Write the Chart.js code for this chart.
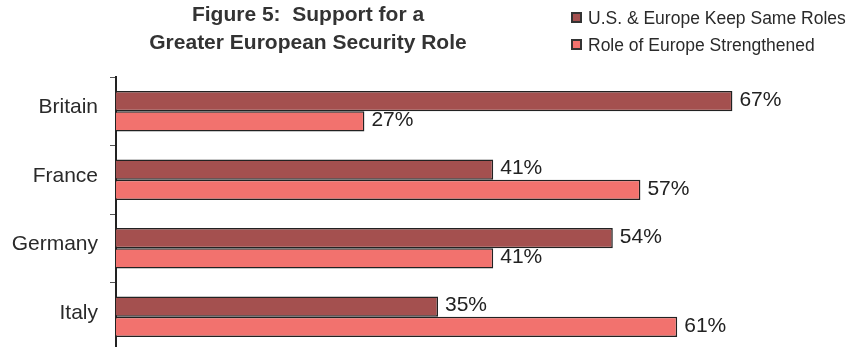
<!DOCTYPE html>
<html>
<head>
<meta charset="utf-8">
<script src="https://cdn.jsdelivr.net/npm/chart.js@4"></script>
<style>
  html, body { margin: 0; padding: 0; background: #fff; overflow: hidden; }
  #wrap { position: relative; width: 859px; height: 356px; }
  #title {
    position: absolute; left: 108px; top: 0; width: 400px;
    text-align: center; font: bold 21px "Liberation Sans", Arial, sans-serif;
    line-height: 28px; color: #333;
  }
  #legend {
    position: absolute; left: 571px; top: 5px;
    font: 17.5px "Liberation Sans", Arial, sans-serif; line-height: 27px; color: #2a2a2a;
  }
  #legend span.box {
    display: inline-block; width: 7px; height: 7px; border: 2px solid #333;
    margin-right: 6px; vertical-align: 1px;
  }
</style>
</head>
<body>
<div id="wrap">
  <canvas id="chart" width="859" height="356"></canvas>
  <div id="title">Figure 5:&nbsp; Support for a<br>Greater European Security Role</div>
  <div id="legend"></div>
</div>
<script>
document.addEventListener("DOMContentLoaded", () => {
    // Data
    const countries = ['Britain', 'France', 'Germany', 'Italy'];
    const keepSame = [67, 41, 54, 35];
    const strengthened = [27, 57, 41, 61];
    const seriesNames = ['U.S. & Europe Keep Same Roles', 'Role of Europe Strengthened'];

    const colors = {
        dark: '#a4504f',
        light: '#f2726e',
        edge: '#222'
    };

    // Legend in the top right corner
    const legendEl = document.getElementById('legend');
    [colors.dark, colors.light].forEach((c, i) => {
        const row = document.createElement('div');
        const box = document.createElement('span');
        box.className = 'box';
        box.style.background = c;
        row.appendChild(box);
        row.appendChild(document.createTextNode(seriesNames[i]));
        legendEl.appendChild(row);
    });

    // Percent labels at the end of each bar
    const valueLabels = {
        id: 'valueLabels',
        afterDatasetsDraw(chart) {
            const ctx = chart.ctx;
            ctx.save();
            ctx.font = '21px "Liberation Sans", Arial, sans-serif';
            ctx.fillStyle = '#222';
            ctx.textBaseline = 'middle';
            ctx.textAlign = 'left';
            chart.data.datasets.forEach((ds, di) => {
                chart.getDatasetMeta(di).data.forEach((bar, i) => {
                    ctx.fillText(ds.data[i] + '%', bar.x + 7, bar.y - 1);
                });
            });
            ctx.restore();
        }
    };

    const ctx = document.getElementById('chart').getContext('2d');
    new Chart(ctx, {
        type: 'bar',
        data: {
            labels: countries,
            datasets: [
                { label: seriesNames[0], data: keepSame, backgroundColor: colors.dark, borderColor: colors.edge, borderWidth: 1.5, barPercentage: 1.0, categoryPercentage: 0.59 },
                { label: seriesNames[1], data: strengthened, backgroundColor: colors.light, borderColor: colors.edge, borderWidth: 1.5, barPercentage: 1.0, categoryPercentage: 0.59 }
            ]
        },
        options: {
            indexAxis: 'y',
            responsive: false,
            animation: false,
            layout: { padding: { top: 77, bottom: 5, left: 0, right: 7 } },
            plugins: { legend: { display: false }, tooltip: { enabled: false }, title: { display: false } },
            scales: {
                x: { display: false, min: 0, max: 80 },
                y: {
                    afterFit: (scale) => {
                        scale.width = 116;
                        scale.paddingTop = 0;
                        scale.paddingBottom = 0;
                    },
                    border: { display: true, color: '#222', width: 2 },
                    grid: { drawOnChartArea: false, tickLength: 6, color: '#555', offset: true },
                    ticks: { color: '#2a2a2a', padding: 12, labelOffset: -4, font: { family: '"Liberation Sans", Arial, sans-serif', size: 21 } }
                }
            }
        },
        plugins: [valueLabels]
    });
});
</script>
</body>
</html>
